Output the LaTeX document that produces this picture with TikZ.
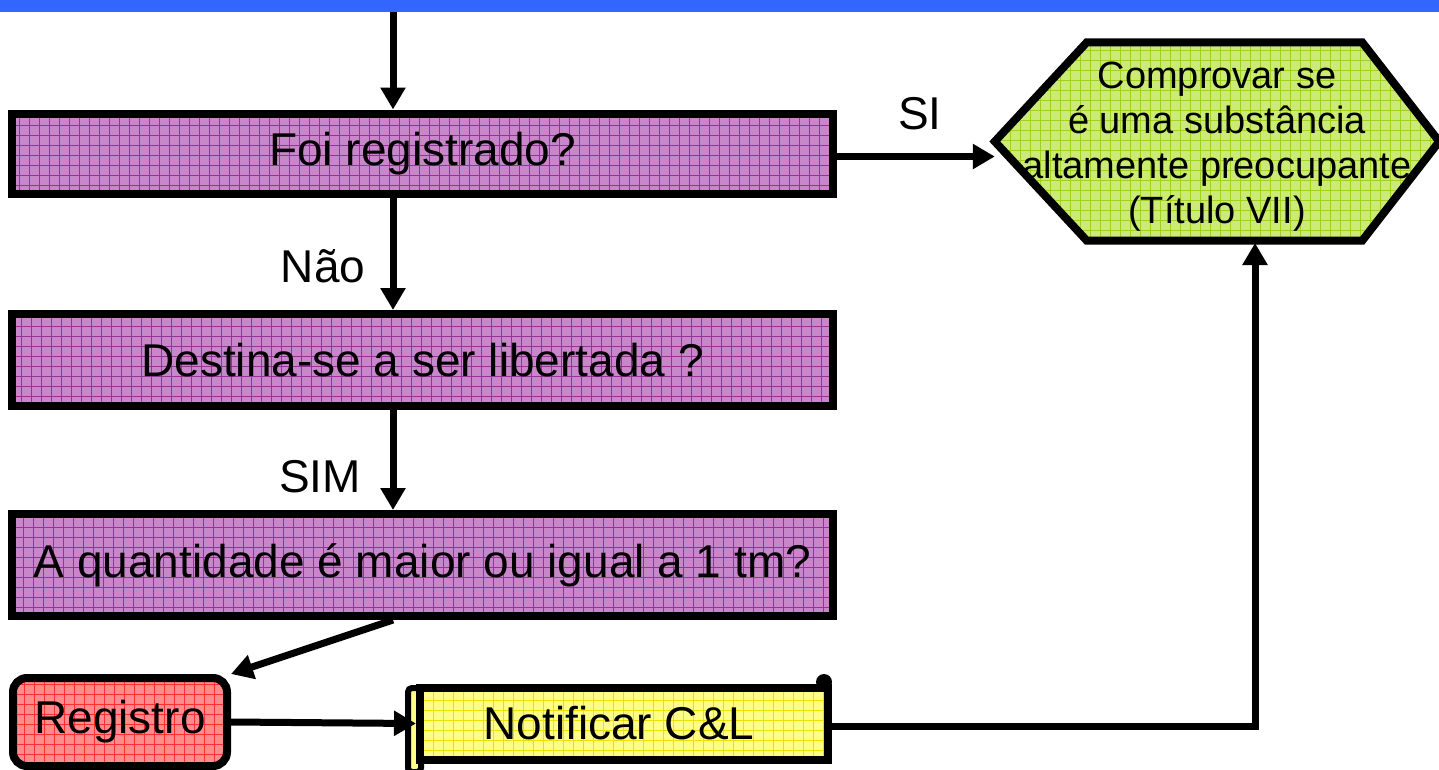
\documentclass[tikz,border=0pt]{standalone}
\usepackage{fontspec}
\setmainfont{Liberation Sans}
\usetikzlibrary{arrows.meta}
\definecolor{barblue}{HTML}{3366FF}
\definecolor{purfill}{HTML}{C887C8}
\definecolor{purgrid}{HTML}{9A309A}
\definecolor{grnfill}{HTML}{CCEA77}
\definecolor{grngrid}{HTML}{A0D020}
\definecolor{redfill}{HTML}{FF8C8C}
\definecolor{redgrid}{HTML}{FF3030}
\definecolor{yelfill}{HTML}{FFFF88}
\definecolor{yelgrid}{HTML}{F0E000}
\tikzset{
  gridded/.style={path picture={\draw[#1, line width=0.7pt]
     ([xshift=-5pt,yshift=-5pt]path picture bounding box.south west) grid[step=10pt]
     ([xshift=5pt,yshift=5pt]path picture bounding box.north east);}},
  qbox/.style={draw=black, line width=8pt, fill=purfill, gridded=purgrid,
     minimum width=821pt, minimum height=80pt, inner sep=0pt,
     font=\fontsize{46}{54}\selectfont},
  arr/.style={line width=7pt, -{Triangle[length=22pt,width=24pt]}},
  lbl/.style={font=\fontsize{46}{54}\selectfont, inner sep=0pt}
}
\begin{document}
\begin{tikzpicture}[x=1pt,y=-1pt]
\useasboundingbox (0,0) rectangle (1439,769);
\fill[barblue] (0,0) rectangle (1439,12);
\coordinate (top) at (393,12);
% decision boxes
\node[qbox] (q1) at (422.5,153.5) {Foi registrado?};
\node[qbox, minimum height=92pt] (q2) at (422.5,360) {Destina-se a ser libertada ?};
\node[qbox, minimum height=102pt] (q3) at (422.5,565) {A quantidade é maior ou igual a 1 tm?};
% registro
\node[draw=black, line width=8pt, fill=redfill, gridded=redgrid, rounded corners=14pt,
      minimum width=214pt, minimum height=88pt, inner sep=0pt,
      font=\fontsize{46}{54}\selectfont] (reg) at (120,722) {Registro};
% notificar scroll
\draw[line width=6pt, fill=yelfill, rounded corners=4pt] (408,688) rectangle (421,772);
\node[draw=black, line width=8pt, fill=yelfill, gridded=yelgrid,
      minimum width=408pt, minimum height=72pt, inner sep=0pt,
      font=\fontsize{46}{54}\selectfont] (notif) at (624,723.5) {\hspace*{-10pt}Notificar C\&L};
\fill[black] (824,682) circle (8);
% hexagon
\node[minimum width=444pt, minimum height=198pt, inner sep=0pt] (hex) at (1217,141.5) {};
\draw[line width=8pt, fill=grnfill, gridded=grngrid, line join=miter]
  (hex.west) -- ([xshift=92pt]hex.north west) -- ([xshift=-77pt]hex.north east)
  -- (hex.east) -- ([xshift=-77pt]hex.south east) -- ([xshift=92pt]hex.south west) -- cycle;
\node[inner sep=0pt, align=center, font=\fontsize{38}{45}\selectfont] (hextxt)
      at ([yshift=-5pt]hex.center)
      {Comprovar se\\é uma substância\\altamente preocupante\\(Título VII)};
\coordinate (hexin) at (1255,243);
% connectors
\draw[arr] (top) -- (top |- q1.north);
\draw[arr] (top |- q1.south) -- (top |- q2.north);
\draw[arr] (top |- q2.south) -- (top |- q3.north);
\draw[arr] (top |- q3.south) -- (reg.north east);
\draw[arr] (reg.east) -- (notif.west);
\draw[arr] ([yshift=-3pt]q1.east) -- ([yshift=-3pt]q1.east -| hex.west);
\draw[arr] ([yshift=-3pt]notif.east) -| (hexin);
% labels
\node[lbl] (lsi) at (920,114) {SI};
\node[lbl] (lnao) at (323,266) {Não};
\node[lbl] (lsim) at (320,477) {SIM};
\end{tikzpicture}
\end{document}
